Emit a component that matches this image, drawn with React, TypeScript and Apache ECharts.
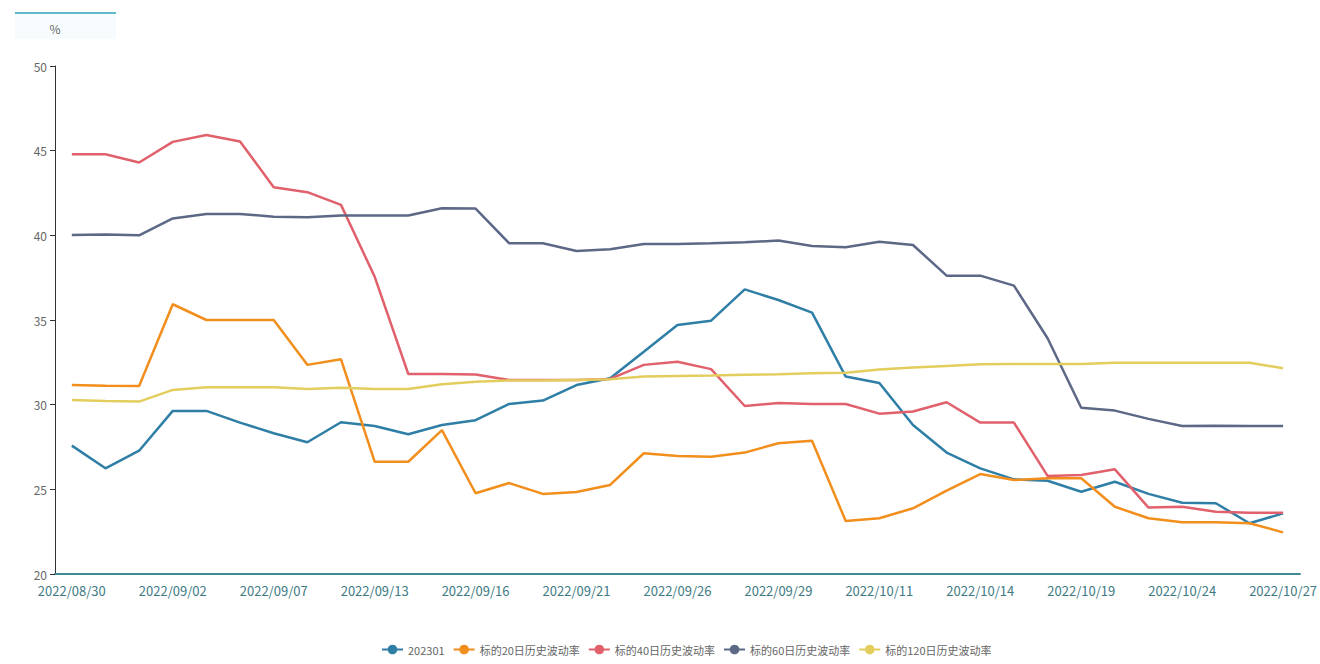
import React, { useEffect, useRef } from "react";
import * as echarts from "echarts";

const dates = [
  "2022/08/30", "2022/08/31", "2022/09/01", "2022/09/02", "2022/09/05", "2022/09/06",
  "2022/09/07", "2022/09/08", "2022/09/09", "2022/09/13", "2022/09/14", "2022/09/15",
  "2022/09/16", "2022/09/19", "2022/09/20", "2022/09/21", "2022/09/22", "2022/09/23",
  "2022/09/26", "2022/09/27", "2022/09/28", "2022/09/29", "2022/09/30", "2022/10/10",
  "2022/10/11", "2022/10/12", "2022/10/13", "2022/10/14", "2022/10/17", "2022/10/18",
  "2022/10/19", "2022/10/20", "2022/10/21", "2022/10/24", "2022/10/25", "2022/10/26",
  "2022/10/27",
];

const seriesNames = ["202301", "标的20日历史波动率", "标的40日历史波动率", "标的60日历史波动率", "标的120日历史波动率"];

const contract202301 = [
  27.58, 26.24, 27.28, 29.63, 29.63, 28.94, 28.31, 27.78, 28.96, 28.74, 28.25, 28.8,
  29.08, 30.04, 30.24, 31.16, 31.56, 33.13, 34.71, 34.96, 36.81, 36.18, 35.44, 31.66,
  31.28, 28.8, 27.17, 26.24, 25.59, 25.51, 24.86, 25.45, 24.73, 24.21, 24.18, 23.0,
  23.58,
];

const hv20 = [
  31.16, 31.12, 31.1, 35.93, 35.0, 35.0, 35.0, 32.35, 32.68, 26.63, 26.63, 28.5,
  24.77, 25.37, 24.73, 24.84, 25.26, 27.13, 26.97, 26.93, 27.17, 27.72, 27.87, 23.13,
  23.29, 23.88, 24.92, 25.9, 25.55, 25.65, 25.65, 23.97, 23.29, 23.05, 23.05, 23.0,
  22.46,
];

const hv40 = [
  44.79, 44.79, 44.3, 45.52, 45.93, 45.54, 42.84, 42.55, 41.8, 37.56, 31.81, 31.81,
  31.78, 31.46, 31.46, 31.46, 31.52, 32.35, 32.54, 32.1, 29.92, 30.1, 30.04, 30.04,
  29.47, 29.6, 30.14, 28.94, 28.94, 25.79, 25.85, 26.18, 23.92, 23.97, 23.68, 23.62,
  23.62,
];

const hv60 = [
  40.02, 40.05, 40.0, 41.0, 41.26, 41.26, 41.1, 41.07, 41.17, 41.17, 41.17, 41.6,
  41.58, 39.53, 39.53, 39.08, 39.18, 39.49, 39.49, 39.53, 39.59, 39.69, 39.37, 39.3,
  39.62, 39.43, 37.62, 37.62, 37.03, 33.92, 29.82, 29.65, 29.16, 28.74, 28.76, 28.74,
  28.74,
];

const hv120 = [
  30.28, 30.22, 30.18, 30.87, 31.03, 31.03, 31.03, 30.93, 31.0, 30.93, 30.93, 31.2,
  31.36, 31.42, 31.42, 31.46, 31.5, 31.66, 31.7, 31.72, 31.76, 31.8, 31.86, 31.89,
  32.07, 32.19, 32.29, 32.39, 32.4, 32.4, 32.4, 32.48, 32.48, 32.48, 32.48, 32.48,
  32.15,
];

const yTicks = [20, 25, 30, 35, 40, 45, 50];

const colors = ["#2e7ea6", "#f28e1c", "#e0616c", "#5c6886", "#e3cd5d"];

export default function App() {
  const ref = useRef<HTMLDivElement>(null);

  useEffect(() => {
    if (!ref.current) return;
    const chart = echarts.init(ref.current, undefined, { renderer: "svg" });
    const allData = [contract202301, hv20, hv40, hv60, hv120];
    const font = "'Liberation Sans Narrow', 'Noto Sans CJK SC', sans-serif";
    chart.setOption({
      animation: false,
      color: colors,
      textStyle: { fontFamily: font },
      grid: { left: 55, right: 16, top: 66, bottom: 90 },
      graphic: [
        {
          type: "rect",
          shape: { x: 15, y: 13, width: 101, height: 26 },
          style: { fill: "rgba(215,243,247,0.22)" },
          silent: true,
        },
        {
          type: "line",
          shape: { x1: 15, y1: 13, x2: 116, y2: 13 },
          style: { stroke: "#5fb9c6", lineWidth: 2 },
          silent: true,
        },
      ],
      legend: {
        bottom: 4,
        left: 376,
        itemWidth: 21,
        itemHeight: 12,
        itemGap: 8,
        textStyle: { color: "#666", fontSize: 11, fontFamily: font },
        data: seriesNames,
      },
      xAxis: {
        type: "category",
        data: dates,
        boundaryGap: true,
        axisLine: { lineStyle: { color: "#3f8a92", width: 2 } },
        axisTick: { interval: 2, lineStyle: { color: "#3f8a92" } },
        axisLabel: { interval: 2, color: "#3e7a84", fontSize: 13, margin: 10 },
        splitLine: { show: false },
      },
      yAxis: {
        type: "value",
        min: yTicks[0],
        max: yTicks[yTicks.length - 1],
        interval: 5,
        name: "%",
        nameGap: 32,
        nameTextStyle: { color: "#666", fontSize: 12, align: "center" },
        axisLine: { show: true, lineStyle: { color: "#333" } },
        axisTick: { show: true, lineStyle: { color: "#333" } },
        axisLabel: { color: "#666", fontSize: 12 },
        splitLine: { show: false },
      },
      series: seriesNames.map((name, i) => ({
        name,
        type: "line",
        data: allData[i],
        symbol: "circle",
        symbolSize: 8,
        showSymbol: false,
        lineStyle: { width: 2.5, color: colors[i] },
        itemStyle: { color: colors[i] },
      })),
    });
    return () => chart.dispose();
  }, []);

  return (
    <div
      ref={ref}
      style={{ position: "fixed", left: 0, top: 0, width: 1320, height: 664, background: "#fff" }}
    />
  );
}
